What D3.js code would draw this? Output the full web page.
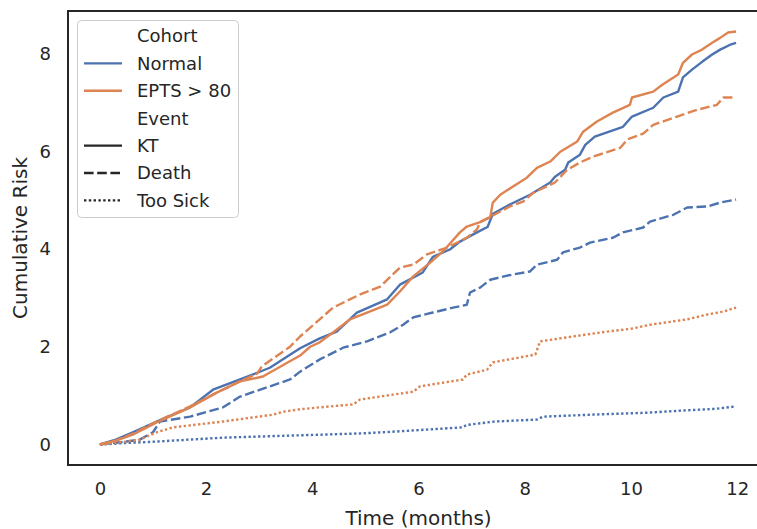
<!DOCTYPE html>
<html>
<head>
<meta charset="utf-8">
<script src="https://cdn.jsdelivr.net/npm/d3@7"></script>
<style>
  html, body { margin: 0; padding: 0; background: #fff; }
  svg text { font-family: "DejaVu Sans", sans-serif; fill: #262626; }
</style>
</head>
<body>
<div id="chart"></div>
<script>
// ------------------------------------------------------------
//   cumulative risk curves  (cohort x event)
// ------------------------------------------------------------
const cohorts = ['Normal', 'EPTS > 80'];
const events  = ['KT', 'Death', 'Too Sick'];
const xTicks  = [0, 2, 4, 6, 8, 10, 12];
const yTicks  = [0, 2, 4, 6, 8];

// [months, cumulative risk]
const normalKT = [[0,0],[0.3,0.1],[0.62,0.25],[1.07,0.47],[1.70,0.76],[2.13,1.12],[2.64,1.33],[3.20,1.57],
  [3.77,1.97],[4.14,2.17],[4.46,2.31],[4.84,2.70],[5.41,2.97],[5.65,3.27],[6.08,3.52],[6.27,3.84],[6.59,3.99],
  [6.78,4.15],[7.10,4.34],[7.30,4.45],[7.40,4.72],[7.72,4.91],[8.10,5.11],[8.48,5.36],[8.57,5.48],[8.76,5.62],
  [8.82,5.77],[9.04,5.93],[9.14,6.13],[9.32,6.30],[9.85,6.50],[10.02,6.71],[10.42,6.89],[10.61,7.10],[10.89,7.22],
  [10.98,7.51],[11.15,7.67],[11.34,7.83],[11.53,7.98],[11.68,8.08],[11.87,8.18],[11.98,8.22]];

const eptsKT = [[0,0],[0.3,0.08],[0.62,0.20],[1.07,0.45],[1.70,0.76],[2.2,1.06],[2.64,1.29],[3.07,1.39],
  [3.77,1.82],[3.96,2.0],[4.14,2.09],[4.39,2.29],[4.71,2.56],[5.03,2.70],[5.41,2.86],[5.65,3.13],[5.90,3.44],
  [6.22,3.72],[6.46,3.95],[6.78,4.34],[6.91,4.46],[7.16,4.55],[7.35,4.65],[7.40,4.95],[7.54,5.11],[7.78,5.28],
  [8.04,5.46],[8.23,5.66],[8.48,5.79],[8.67,5.99],[8.99,6.20],[9.10,6.40],[9.36,6.61],[9.66,6.79],[9.98,6.95],
  [10.02,7.10],[10.42,7.22],[10.59,7.36],[10.89,7.57],[10.98,7.81],[11.15,7.98],[11.34,8.08],[11.53,8.22],
  [11.68,8.32],[11.83,8.43],[11.98,8.45]];

const normalDeath = [[0,0],[0.5,0.06],[0.75,0.10],[1.0,0.25],[1.13,0.47],[1.70,0.57],[2.32,0.76],[2.64,0.98],
  [3.15,1.17],[3.58,1.33],[3.77,1.49],[4.14,1.74],[4.58,1.98],[5.03,2.11],[5.46,2.29],[5.71,2.45],[5.90,2.60],
  [6.27,2.70],[6.65,2.80],[6.91,2.86],[6.97,3.11],[7.16,3.21],[7.35,3.37],[7.54,3.42],[7.78,3.48],[8.10,3.54],
  [8.23,3.68],[8.61,3.78],[8.72,3.93],[9.04,4.03],[9.23,4.13],[9.66,4.23],[9.85,4.34],[10.23,4.44],[10.36,4.56],
  [10.80,4.70],[11.06,4.85],[11.44,4.87],[11.68,4.95],[11.98,5.01]];

const eptsDeath = [[0,0],[0.3,0.08],[0.62,0.22],[1.07,0.47],[1.70,0.78],[2.2,1.06],[2.64,1.29],[2.96,1.45],
  [3.05,1.60],[3.58,2.0],[3.77,2.21],[4.14,2.56],[4.39,2.80],[4.90,3.07],[5.28,3.23],[5.65,3.62],[5.90,3.68],
  [6.16,3.89],[6.54,4.03],[6.91,4.23],[7.10,4.40],[7.16,4.55],[7.72,4.87],[7.97,4.97],[8.16,5.15],[8.57,5.36],
  [8.80,5.62],[9.04,5.77],[9.29,5.89],[9.80,6.07],[9.93,6.24],[10.23,6.36],[10.42,6.54],[10.87,6.71],
  [11.25,6.85],[11.62,6.95],[11.74,7.10],[11.95,7.10]];

const normalSick = [[0,0],[0.5,0.03],[1.07,0.06],[2.32,0.14],[4.14,0.20],[5.0,0.23],[5.65,0.27],[6.82,0.35],
  [6.91,0.40],[7.44,0.47],[8.23,0.51],[8.35,0.57],[9.5,0.62],[10.3,0.65],[11.06,0.70],[11.6,0.73],[11.98,0.78]];

const eptsSick = [[0,0],[0.5,0.06],[0.75,0.10],[1.07,0.25],[1.38,0.35],[2.32,0.47],[3.26,0.61],[3.45,0.67],
  [3.77,0.72],[4.14,0.76],[4.77,0.82],[4.90,0.92],[5.52,1.02],[5.90,1.08],[6.03,1.19],[6.84,1.33],[6.91,1.43],
  [7.29,1.53],[7.40,1.68],[8.20,1.84],[8.29,2.11],[8.91,2.21],[9.55,2.31],[10.02,2.37],[10.36,2.45],
  [11.06,2.56],[11.44,2.66],[11.74,2.72],[11.98,2.80]];

(function () {
  const W = 757, H = 529;
  const lw = 2.4;
  const colors = { 'Normal': '#4c72b0', 'EPTS > 80': '#dd8452' };
  const dashes = { 'KT': null, 'Death': [4 * lw, 1.5 * lw], 'Too Sick': [lw, lw] };

  const series = [
    { cohort: 'Normal',    event: 'KT',       values: normalKT },
    { cohort: 'Normal',    event: 'Death',    values: normalDeath },
    { cohort: 'Normal',    event: 'Too Sick', values: normalSick },
    { cohort: 'EPTS > 80', event: 'KT',       values: eptsKT },
    { cohort: 'EPTS > 80', event: 'Death',    values: eptsDeath },
    { cohort: 'EPTS > 80', event: 'Too Sick', values: eptsSick }
  ];

  const box = { left: 68, right: 769, top: 11, bottom: 465 };

  const svg = d3.select('#chart').append('svg')
    .attr('width', W).attr('height', H);

  const x = d3.scaleLinear().domain([-0.6, 12.6]).range([box.left, box.right]);
  const y = d3.scaleLinear().domain([-0.42, 8.87]).range([box.bottom, box.top]);

  /* -------- lines -------- */
  const line = d3.line().x(d => x(d[0])).y(d => y(d[1]));
  svg.append('g').selectAll('path').data(series).enter().append('path')
    .attr('d', d => line(d.values))
    .attr('fill', 'none')
    .attr('stroke', d => colors[d.cohort])
    .attr('stroke-width', lw)
    .attr('stroke-linejoin', 'round')
    .attr('stroke-dasharray', d => dashes[d.event] ? dashes[d.event].join(',') : null);

  /* -------- axes (no tick marks, seaborn white) -------- */
  const xAxis = svg.append('g')
    .attr('transform', `translate(0,${box.bottom})`)
    .call(d3.axisBottom(x).tickValues(xTicks).tickSize(0).tickPadding(17));
  const yAxis = svg.append('g')
    .attr('transform', `translate(${box.left},0)`)
    .call(d3.axisLeft(y).tickValues(yTicks).tickSize(0).tickPadding(17));
  [xAxis, yAxis].forEach(a => {
    a.select('.domain').remove();
    a.selectAll('text').style('font-size', '18px').style('font-family', '"DejaVu Sans", sans-serif').attr('fill', '#262626');
  });

  svg.append('rect')
    .attr('x', box.left).attr('y', box.top)
    .attr('width', box.right - box.left).attr('height', box.bottom - box.top)
    .attr('fill', 'none').attr('stroke', '#262626').attr('stroke-width', 2);

  svg.append('text')
    .attr('x', (box.left + box.right) / 2).attr('y', 525)
    .attr('text-anchor', 'middle').style('font-size', '20px')
    .text('Time (months)');
  svg.append('text')
    .attr('transform', `translate(27,${(box.top + box.bottom) / 2}) rotate(-90)`)
    .attr('text-anchor', 'middle').style('font-size', '20px')
    .text('Cumulative Risk');

  /* -------- legend -------- */
  const legendRows = [
    { label: 'Cohort' },
    { label: 'Normal',    color: colors['Normal'],    dash: null },
    { label: 'EPTS > 80', color: colors['EPTS > 80'], dash: null },
    { label: 'Event' },
    { label: 'KT',        color: '#262626', dash: dashes['KT'] },
    { label: 'Death',     color: '#262626', dash: dashes['Death'] },
    { label: 'Too Sick',  color: '#262626', dash: dashes['Too Sick'] }
  ];
  const lg = svg.append('g');
  lg.append('rect')
    .attr('x', 77.5).attr('y', 20.5).attr('width', 161).attr('height', 197)
    .attr('rx', 4).attr('fill', '#fff').attr('fill-opacity', 0.8)
    .attr('stroke', '#cccccc').attr('stroke-width', 1);
  const rowY = i => 36 + i * 27.4;
  const rows = lg.selectAll('g.row').data(legendRows).enter().append('g')
    .attr('transform', (d, i) => `translate(0,${rowY(i)})`);
  rows.filter(d => d.color).append('line')
    .attr('x1', 84).attr('x2', 122).attr('y1', 0).attr('y2', 0)
    .attr('stroke', d => d.color).attr('stroke-width', lw)
    .attr('stroke-dasharray', d => d.dash ? d.dash.join(',') : null);
  rows.append('text')
    .attr('x', 137).attr('y', 0).attr('dy', '0.36em')
    .style('font-size', '18px')
    .text(d => d.label);
})();
</script>
</body>
</html>
